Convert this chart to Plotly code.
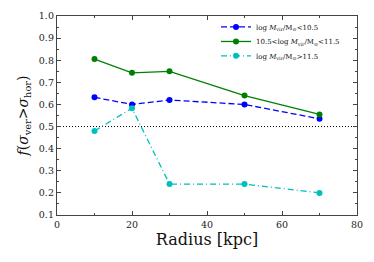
import plotly.graph_objects as go

radius = [10, 20, 30, 50, 70]
low_mass = [0.632, 0.600, 0.620, 0.600, 0.535]
mid_mass = [0.805, 0.743, 0.750, 0.640, 0.555]
high_mass = [0.480, 0.583, 0.240, 0.240, 0.200]
names = ["log <i>M</i><sub>vir</sub>/M<sub>⊙</sub><10.5",
         "10.5<log <i>M</i><sub>vir</sub>/M<sub>⊙</sub><11.5",
         "log <i>M</i><sub>vir</sub>/M<sub>⊙</sub>>11.5"]

fig = go.Figure()
fig.add_trace(go.Scatter(x=[0, 80], y=[0.5, 0.5], mode="lines",
                         line=dict(color="black", width=1, dash="1px,2px"),
                         showlegend=False, hoverinfo="skip"))
specs = [(low_mass, "#0000ff", "6px,3px"), (mid_mass, "#008000", "solid"), (high_mass, "#00bfbf", "6px,3px,1px,3px")]
legends = ["legend", "legend2", "legend3"]
for (vals, col, dash), nm, lg in zip(specs, names, legends):
    fig.add_trace(go.Scatter(x=radius, y=vals, mode="lines+markers", name=nm, legend=lg,
                             line=dict(color=col, width=1.3, dash=dash),
                             marker=dict(color=col, size=6)))

axis_common = dict(showgrid=False, zeroline=False, mirror="allticks", ticks="inside",
                   ticklen=4, tickcolor="#444", linecolor="#444", linewidth=1.3, showline=True,
                   automargin=False,
                   tickfont=dict(family="DejaVu Serif", size=9.5, color="#222"),
                   minor=dict(ticks="inside", ticklen=2, tickcolor="#444"))
fig.update_xaxes(range=[0, 80], dtick=20, minor_dtick=10,
                 title=dict(text="Radius [kpc]", font=dict(family="DejaVu Serif", size=16, color="#111"), standoff=5),
                 **axis_common)
fig.update_yaxes(range=[0.1, 1.0], dtick=0.1, tickformat=".1f", minor_dtick=0.05,
                 title=dict(text="<i>f</i>(<i>σ</i><sub>ver</sub>><i>σ</i><sub>hor</sub>)",
                            font=dict(family="DejaVu Serif", size=14, color="#111"), standoff=6),
                 **axis_common)

def leg(yv):
    return dict(x=0.53, y=yv, xanchor="left", yanchor="middle",
                bgcolor="rgba(0,0,0,0)", font=dict(family="DejaVu Serif", size=7, color="#111"),
                itemwidth=30)

fig.update_layout(width=374, height=262, margin=dict(l=57, r=17, t=16, b=47),
                  paper_bgcolor="white", plot_bgcolor="white",
                  legend=leg(0.945), legend2=leg(0.872), legend3=leg(0.80))
fig.write_html("out.html", config={"displayModeBar": False},
               post_script="document.body.style.margin='0';document.body.style.overflow='hidden';")
